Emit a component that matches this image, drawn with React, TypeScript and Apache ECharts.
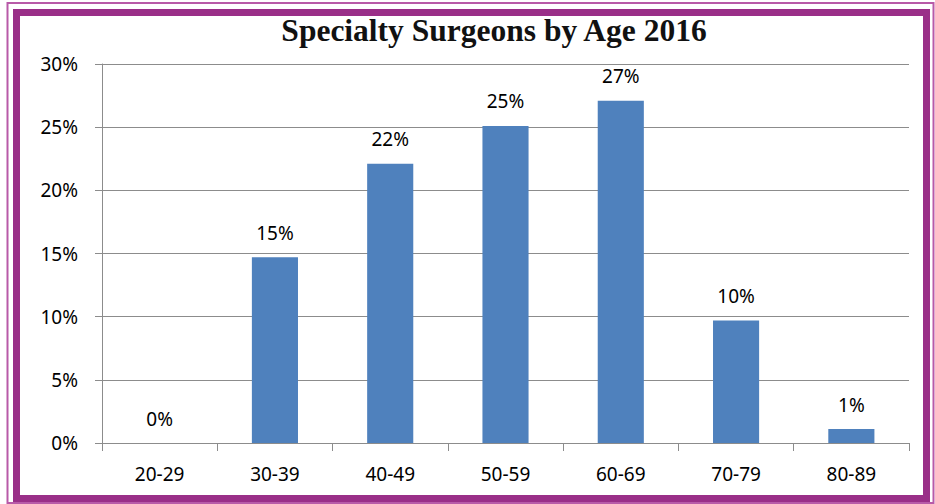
import React, { useEffect, useRef } from "react";
import * as echarts from "echarts";

const categories = ["20-29", "30-39", "40-49", "50-59", "60-69", "70-79", "80-89"];
const values = [0, 14.7, 22.1, 25.1, 27.1, 9.7, 1.1];
const labels = ["0%", "15%", "22%", "25%", "27%", "10%", "1%"];
const title = "Specialty Surgeons by Age 2016";

export default function App() {
  const ref = useRef<HTMLDivElement>(null);
  useEffect(() => {
    const chart = echarts.init(ref.current!, null, { renderer: "svg" });
    const purple = "#9a2f88";
    chart.setOption({
      animation: false,
      backgroundColor: "#ffffff",
      title: {
        text: title,
        left: 489,
        textAlign: "center",
        top: 9,
        textStyle: {
          fontFamily: "Liberation Serif",
          fontWeight: "bold",
          fontSize: 31.5,
          color: "#111",
        },
      },
      grid: { left: 102, right: 26, top: 64, bottom: 61 },
      xAxis: {
        type: "category",
        data: categories,
        axisLine: { lineStyle: { color: "#8c8c8c", width: 1 } },
        axisTick: { show: true, length: 8, lineStyle: { color: "#8c8c8c" } },
        axisLabel: {
          fontFamily: "Noto Sans",
          fontSize: 19,
          color: "#000",
          margin: 21,
        },
      },
      yAxis: {
        type: "value",
        min: 0,
        max: 30,
        interval: 5,
        axisLine: { show: true, lineStyle: { color: "#8c8c8c" } },
        axisTick: { show: true, length: 7, lineStyle: { color: "#8c8c8c" } },
        splitLine: { lineStyle: { color: "#8c8c8c", width: 1 } },
        axisLabel: {
          formatter: "{value}%",
          fontFamily: "Noto Sans",
          fontSize: 19,
          color: "#000",
          margin: 24,
        },
      },
      series: [
        {
          type: "bar",
          data: values,
          barWidth: "40%",
          itemStyle: { color: "#4f81bd" },
          label: {
            show: true,
            position: "top",
            distance: 15,
            fontFamily: "Noto Sans",
            fontSize: 19,
            color: "#000",
            formatter: (p: any) => labels[p.dataIndex],
          },
        },
      ],
      graphic: [
        {
          type: "rect",
          shape: { x: 7.5, y: 3, width: 926, height: 500 },
          style: { fill: "none", stroke: "#b85aa8", lineWidth: 2 },
          silent: true,
        },
        {
          type: "rect",
          shape: { x: 16.5, y: 12.5, width: 910, height: 486 },
          style: { fill: "none", stroke: purple, lineWidth: 7 },
          silent: true,
        },
      ],
    });
    return () => chart.dispose();
  }, []);
  return (
    <div
      ref={ref}
      style={{ position: "absolute", left: 0, top: 0, width: 935, height: 504 }}
    />
  );
}
